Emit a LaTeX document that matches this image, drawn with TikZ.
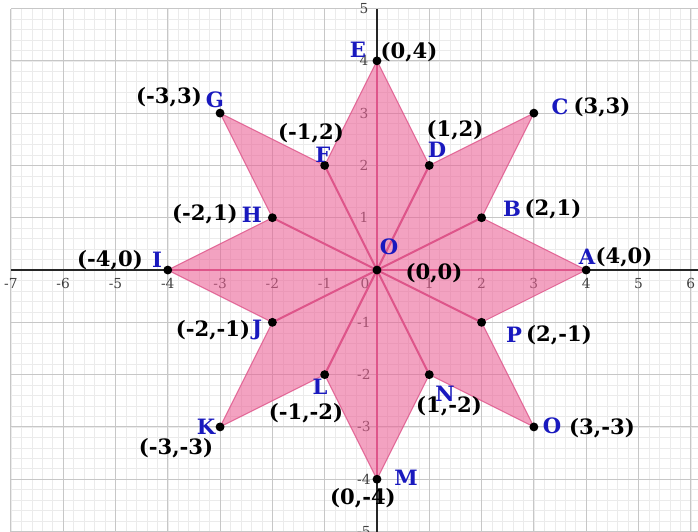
\documentclass[tikz,border=0pt]{standalone}
\usepackage{fontspec}
\setmainfont{DejaVu Serif}
\usepackage{xcolor}
\usepackage{tikz}
\usetikzlibrary{positioning}

\definecolor{starpink}{RGB}{235,95,148}
\definecolor{spokepink}{RGB}{222,85,138}
\definecolor{ptblue}{RGB}{25,25,190}

\begin{document}
\begin{tikzpicture}[
    minorgrid/.style={draw=black!8, line width=0.3pt},
    majorgrid/.style={draw=black!22, line width=0.5pt},
    axis/.style={draw=black!85, line width=1.1pt},
    star/.style={fill=starpink, fill opacity=0.58, draw=spokepink, draw opacity=0.8, line width=0.6pt},
    spoke/.style={draw=spokepink, line width=1.1pt},
    tick/.style={text=black!75, font=\fontsize{7.5}{8}\selectfont, inner sep=0pt},
    lbl/.style={text=ptblue, font=\bfseries\fontsize{11.5}{13}\selectfont, inner sep=0pt},
    crd/.style={text=black, font=\bfseries\fontsize{11.5}{13}\selectfont, inner sep=0pt}
]
    \useasboundingbox (-7.208,-4.990) rectangle (6.138,5.163);
    \clip (-7.208,-4.990) rectangle (6.138,5.163);

    % Grid paper
    \draw[minorgrid, step=0.2] (-7,-5.2) grid (6.4,5);
    \draw[majorgrid, step=1] (-7,-5.2) grid (6.4,5);

    % Axes
    \coordinate (xl) at (-7,0);
    \coordinate (xr) at (6.4,0);
    \coordinate (yb) at (0,-5.2);
    \coordinate (yt) at (0,5);
    \draw[axis] (xl) -- (xr);
    \draw[axis] (yb) -- (yt);

    % Tick labels
    \foreach \x [count=\i] in {-7,-6,-5,-4,-3,-2,-1,1,2,3,4,5,6}
        \node[tick] (xt\i) at (\x,-0.25) {\x};
    \foreach \y [count=\i] in {-5,-4,-3,-2,-1,1,2,3,4,5}
        \node[tick] (yt\i) at (-0.25,\y) {\y};
    \node[tick] (zero) at (-0.23,-0.25) {0};

    % Star points
    \coordinate (origin) at (0,0);
    \coordinate (A) at (4,0);
    \coordinate (B) at (2,1);
    \coordinate (C) at (3,3);
    \coordinate (D) at (1,2);
    \coordinate (E) at (0,4);
    \coordinate (F) at (-1,2);
    \coordinate (G) at (-3,3);
    \coordinate (H) at (-2,1);
    \coordinate (I) at (-4,0);
    \coordinate (J) at (-2,-1);
    \coordinate (K) at (-3,-3);
    \coordinate (L) at (-1,-2);
    \coordinate (M) at (0,-4);
    \coordinate (N) at (1,-2);
    \coordinate (Opt) at (3,-3);
    \coordinate (P) at (2,-1);

    % Star shape
    \path[star] (A) -- (B) -- (C) -- (D) -- (E) -- (F) -- (G) -- (H)
        -- (I) -- (J) -- (K) -- (L) -- (M) -- (N) -- (Opt) -- (P) -- cycle;
    \foreach \p in {A,B,D,E,F,H,I,J,L,M,N,P}
        \draw[spoke] (origin) -- (\p);

    % Dots
    \foreach \p in {origin,A,B,C,D,E,F,G,H,I,J,K,L,M,N,Opt,P}
        \fill (\p) circle (0.085);

    % Letters and coordinates
    \node[lbl] (labA) at (4.015,0.249) {A};
    \node[crd] (crdA) at (4.723,0.249) {(4,0)};
    \node[lbl] (labB) at (2.581,1.166) {B};
    \node[crd] (crdB) at (3.365,1.166) {(2,1)};
    \node[lbl] (labC) at (3.499,3.117) {C};
    \node[crd] (crdC) at (4.302,3.117) {(3,3)};
    \node[lbl] (labD) at (1.147,2.294) {D};
    \node[crd] (crdD) at (1.491,2.677) {(1,2)};
    \node[lbl] (labE) at (-0.363,4.206) {E};
    \node[crd] (crdE) at (0.612,4.168) {(0,4)};
    \node[lbl] (labF) at (-1.033,2.199) {F};
    \node[crd] (crdF) at (-1.262,2.620) {(-1,2)};
    \node[lbl] (labG) at (-3.098,3.250) {G};
    \node[crd] (crdG) at (-3.977,3.308) {(-3,3)};
    \node[lbl] (labH) at (-2.390,1.052) {H};
    \node[crd] (crdH) at (-3.289,1.071) {(-2,1)};
    \node[lbl] (labI) at (-4.207,0.191) {I};
    \node[crd] (crdI) at (-5.105,0.191) {(-4,0)};
    \node[lbl] (labJ) at (-2.294,-1.147) {J};
    \node[crd] (crdJ) at (-3.136,-1.147) {(-2,-1)};
    \node[lbl] (labK) at (-3.270,-3.002) {K};
    \node[crd] (crdK) at (-3.843,-3.403) {(-3,-3)};
    \node[lbl] (labL) at (-1.090,-2.237) {L};
    \node[crd] (crdL) at (-1.358,-2.734) {(-1,-2)};
    \node[lbl] (labM) at (0.554,-3.977) {M};
    \node[crd] (crdM) at (-0.268,-4.359) {(0,-4)};
    \node[lbl] (labN) at (1.300,-2.371) {N};
    \node[crd] (crdN) at (1.377,-2.600) {(1,-2)};
    \node[lbl] (labOpt) at (3.346,-2.983) {O};
    \node[crd] (crdOpt) at (4.302,-3.021) {(3,-3)};
    \node[lbl] (labP) at (2.620,-1.243) {P};
    \node[crd] (crdP) at (3.480,-1.243) {(2,-1)};
    \node[lbl] (laborigin) at (0.229,0.440) {O};
    \node[crd] (crdorigin) at (1.090,-0.057) {(0,0)};
\end{tikzpicture}
\end{document}
